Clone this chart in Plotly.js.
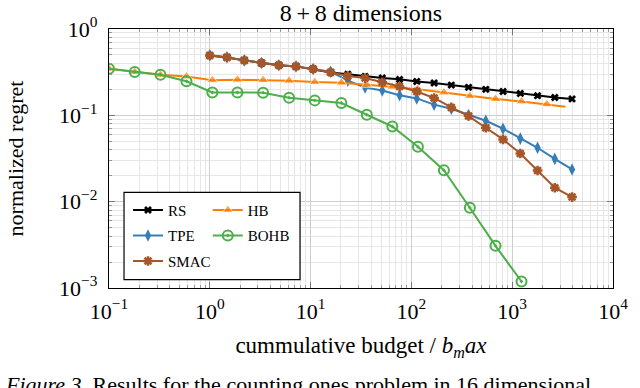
<!DOCTYPE html>
<html>
<head>
<meta charset="utf-8">
<script src="https://cdn.plot.ly/plotly-3.0.1.min.js"></script>
<style>
  html, body { margin: 0; padding: 0; background: #fff; }
  #chart { width: 640px; height: 388px; }
</style>
</head>
<body>
<div id="chart"></div>
<script>
// cumulative budget (in units of b_max) where the marks sit
const budgetFull = [1, 1.48, 2.2, 3.26, 4.84, 7.17, 10.6, 15.8, 23.4, 34.7, 51.4, 76.3,
    113, 168, 249, 369, 547, 811, 1203, 1784, 2646, 3925];
const budgetHB = [0.1, 0.18, 0.324, 0.587, 1.06, 1.88, 3.38, 6.12, 11.0, 20.2, 36.1, 64.7,
    116, 210, 380, 683, 1237, 2205, 3380];
const budgetBOHB = [0.1, 0.18, 0.324, 0.587, 1.06, 1.88, 3.38, 6.12, 11.0, 20.2, 36.1, 64.7,
    116, 210, 380, 683, 1237];

// normalized regret per method
const regretRS = [0.494, 0.469, 0.433, 0.404, 0.381, 0.369, 0.344, 0.314, 0.299, 0.282, 0.271,
    0.261, 0.246, 0.237, 0.224, 0.211, 0.200, 0.189, 0.179, 0.169, 0.161, 0.155];
const regretTPE = [0.496, 0.471, 0.433, 0.404, 0.381, 0.369, 0.344, 0.320, 0.252, 0.210, 0.194,
    0.171, 0.157, 0.133, 0.119, 0.1008, 0.0866, 0.070, 0.0538, 0.0421, 0.0313, 0.0236];
const regretSMAC = [0.494, 0.469, 0.433, 0.404, 0.381, 0.369, 0.344, 0.316, 0.286, 0.270, 0.242,
    0.216, 0.189, 0.159, 0.1235, 0.0981, 0.0718, 0.0526, 0.0362, 0.0230, 0.0145, 0.0113];
const regretHB = [0.347, 0.318, 0.295, 0.282, 0.255, 0.259, 0.256, 0.252, 0.243, 0.239, 0.226,
    0.214, 0.201, 0.184, 0.167, 0.1545, 0.145, 0.1345, 0.126];
const regretBOHB = [0.347, 0.318, 0.295, 0.248, 0.184, 0.184, 0.183, 0.160, 0.149, 0.139, 0.1016,
    0.0743, 0.0433, 0.0231, 0.00849, 0.00308, 0.00119];

const xTickVals = [0.1, 1, 10, 100, 1000, 10000];
const xTickText = ['10<sup>\u22121</sup>', '10<sup>0</sup>', '10<sup>1</sup>', '10<sup>2</sup>', '10<sup>3</sup>', '10<sup>4</sup>'];
const yTickVals = [0.001, 0.01, 0.1, 1];
const yTickText = ['10<sup>\u22123</sup>', '10<sup>\u22122</sup>', '10<sup>\u22121</sup>', '10<sup>0</sup>'];

// minor ticks 2..9 in every decade
function minorTicks(lo, hi) {
    const out = [];
    for (let e = lo; e < hi; e++) {
        for (let d = 2; d <= 9; d++) out.push(d * Math.pow(10, e));
    }
    return out;
}

const serif = '"Liberation Serif", "Times New Roman", serif';

const traceRS = {
    x: budgetFull, y: regretRS, name: 'RS', mode: 'lines+markers',
    legend: 'legend', legendgroup: 'rs',
    line: { color: '#000000', width: 2 },
    marker: { symbol: 'x', size: 7, color: '#000000' }
};
const traceTPE = {
    x: budgetFull, y: regretTPE, name: 'TPE', mode: 'lines+markers',
    legend: 'legend', legendgroup: 'tpe',
    line: { color: '#377eb8', width: 2 },
    marker: { symbol: 'diamond-tall', size: 9, color: '#377eb8' }
};
const traceHB = {
    x: budgetHB, y: regretHB, name: 'HB', mode: 'lines+markers',
    legend: 'legend2', legendgroup: 'hb',
    line: { color: '#ff7f00', width: 2 },
    marker: { symbol: 'triangle-up', color: '#ff7f00',
        size: budgetHB.map((_, i) => i < budgetHB.length - 1 ? 10 : 0) }
};
const traceBOHB = {
    x: budgetBOHB, y: regretBOHB, name: 'BOHB', mode: 'lines+markers',
    legend: 'legend2', legendgroup: 'bohb',
    line: { color: '#4daf4a', width: 2 },
    marker: { symbol: 'circle-open-dot', size: 10, color: '#4daf4a', line: { width: 2 } }
};
const traceSMAC = {
    x: budgetFull, y: regretSMAC, name: 'SMAC', mode: 'lines+markers',
    legend: 'legend', legendgroup: 'smac',
    line: { color: '#a65628', width: 2 },
    marker: { symbol: 'asterisk', size: 8, color: '#a65628', line: { color: '#a65628', width: 2.5 } }
};

const axisBase = {
    type: 'log',
    tickmode: 'array',
    tickfont: { size: 22 },
    ticks: 'inside', ticklen: 6, tickcolor: '#777',
    showline: true, linecolor: '#000', linewidth: 1.2, mirror: 'allticks',
    showgrid: true, gridcolor: '#cfcfcf', gridwidth: 1,
    zeroline: false
};

const layout = {
    width: 640, height: 388,
    margin: { l: 109, r: 27, t: 29, b: 100 },
    paper_bgcolor: '#fff', plot_bgcolor: '#fff',
    font: { family: serif, color: '#000', size: 22 },
    showlegend: true,
    title: { text: '8\u2009+\u20098 dimensions', font: { size: 24 }, x: 0.564, xanchor: 'center',
        y: 0.968, yanchor: 'middle' },
    xaxis: Object.assign({}, axisBase, {
        range: [-1, 4], tickvals: xTickVals, ticktext: xTickText, ticklabelstandoff: 3,
        minor: { tickmode: 'array', tickvals: minorTicks(-1, 4), ticks: 'inside', ticklen: 3,
            tickcolor: '#999', showgrid: true, gridcolor: '#e6e6e6' },
        title: { text: 'cummulative budget / <i>b</i><sub><i>m</i></sub><i>ax</i>', font: { size: 23 }, standoff: 14 }
    }),
    yaxis: Object.assign({}, axisBase, {
        range: [-3, 0], tickvals: yTickVals, ticktext: yTickText, ticklabelstandoff: 6,
        minor: { tickmode: 'array', tickvals: minorTicks(-3, 0), ticks: 'inside', ticklen: 3,
            tickcolor: '#999', showgrid: true, gridcolor: '#e6e6e6' },
        title: { text: 'normalized regret', font: { size: 22 }, standoff: 29 }
    }),
    legend: {
        x: 0.0377, y: 0.364, xanchor: 'left', yanchor: 'top',
        bgcolor: 'rgba(0,0,0,0)', borderwidth: 0, tracegroupgap: 3,
        font: { size: 15 }
    },
    legend2: {
        x: 0.196, y: 0.364, xanchor: 'left', yanchor: 'top',
        bgcolor: 'rgba(0,0,0,0)', borderwidth: 0, tracegroupgap: 3,
        font: { size: 15 }
    },
    shapes: [{
        type: 'rect', xref: 'paper', yref: 'paper',
        x0: 0.0298, x1: 0.379, y0: 0.032, y1: 0.369,
        line: { color: '#000', width: 1.2 }, fillcolor: '#fff', layer: 'above'
    }],
    annotations: [{
        text: '<i>Figure 3.</i> Results for the counting ones problem in 16 dimensional',
        xref: 'paper', yref: 'paper', x: -0.2103, y: -0.315,
        xanchor: 'left', yanchor: 'top', showarrow: false,
        font: { size: 22 }
    }]
};

Plotly.newPlot('chart', [traceRS, traceTPE, traceHB, traceBOHB, traceSMAC], layout,
    { staticPlot: true, displayModeBar: false });
</script>
</body>
</html>
